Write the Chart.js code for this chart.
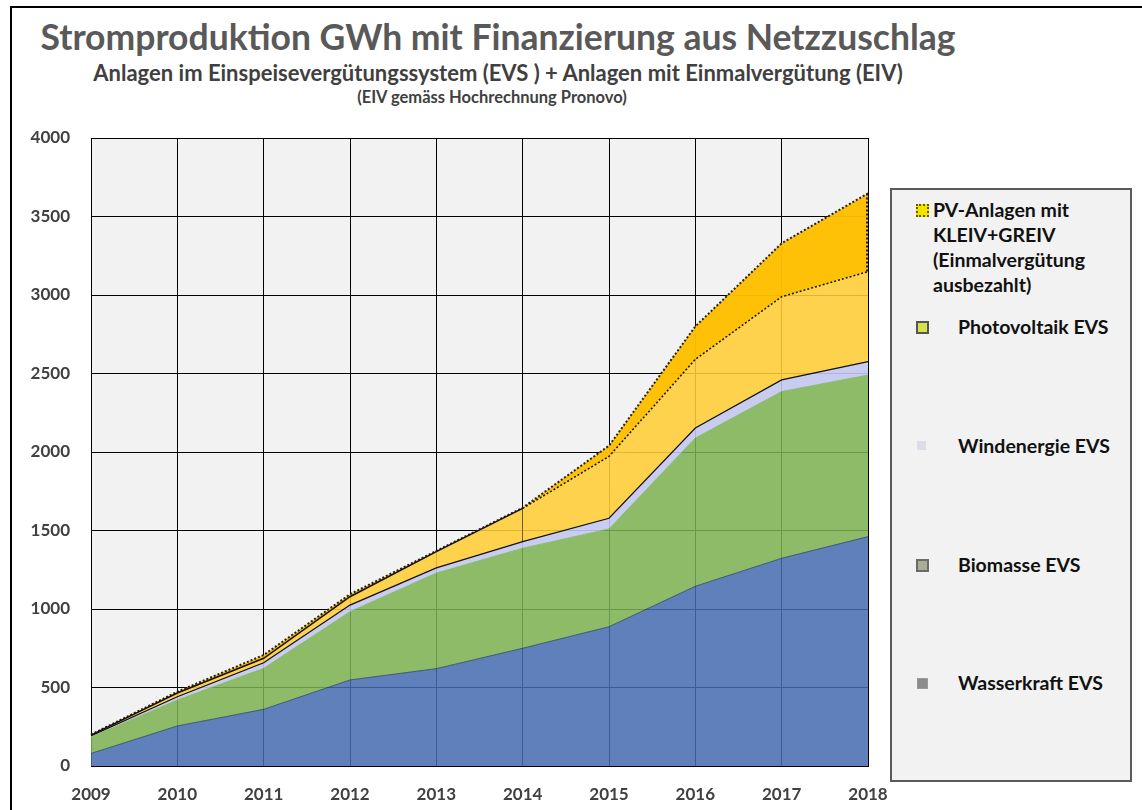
<!DOCTYPE html>
<html>
<head>
<meta charset="utf-8">
<script src="https://cdn.jsdelivr.net/npm/chart.js@4"></script>
<style>
  body { margin: 0; background: #fff; width: 1142px; height: 810px; position: relative; overflow: hidden; font-family: Lato, "Open Sans", sans-serif; }
  #frame { position: absolute; left: 10px; top: 6px; width: 1140px; height: 820px; border-left: 2px solid #000; border-top: 2px solid #000; }
  .t { position: absolute; left: 0; text-align: center; font-weight: bold; white-space: nowrap; }
  #legend { position: absolute; left: 890px; top: 188px; width: 238px; height: 590px; border: 2px solid #5a5a5a; background: #f2f2f2; }
  .lt { position: absolute; font-weight: bold; font-size: 19.5px; color: #111; white-space: nowrap; line-height: 25px; }
  .mk { position: absolute; width: 9px; height: 9px; }
  canvas { position: absolute; left: 0; top: 0; }
</style>
</head>
<body>
<div id="frame"></div>
<div class="t" style="top:16px;width:996px;font-size:35.5px;line-height:42px;color:#595959">Stromproduktion GWh mit Finanzierung aus Netzzuschlag</div>
<div class="t" style="top:60px;width:996px;font-size:22px;line-height:26px;color:#404040">Anlagen im Einspeisevergütungssystem (EVS ) + Anlagen mit Einmalvergütung (EIV)</div>
<div class="t" style="top:87px;width:984px;font-size:16.5px;line-height:20px;color:#404040">(EIV gemäss Hochrechnung Pronovo)</div>
<canvas id="c" width="1142" height="810"></canvas>
<div id="legend"></div>
<div class="mk" style="left:916px;top:204px;background:#f0e400;border:2px dotted #6b5a00"></div>
<div class="lt" style="left:933px;top:197px">PV-Anlagen mit<br>KLEIV+GREIV<br>(Einmalvergütung<br>ausbezahlt)</div>
<div class="mk" style="left:916px;top:321px;background:#d6e24a;border:2px solid #555"></div>
<div class="lt" style="left:958px;top:314px">Photovoltaik EVS</div>
<div class="mk" style="left:917px;top:441px;background:#dcdde6"></div>
<div class="lt" style="left:958px;top:433px">Windenergie EVS</div>
<div class="mk" style="left:916px;top:559px;background:#a9ae95;border:2px solid #6b6b6b"></div>
<div class="lt" style="left:958px;top:552px">Biomasse EVS</div>
<div class="mk" style="left:917px;top:678px;background:#8c8c8c;border:1px solid #9a9a9a"></div>
<div class="lt" style="left:958px;top:670px">Wasserkraft EVS</div>
<script>
// GWh per Jahr, gestapelt
const years = ['2009', '2010', '2011', '2012', '2013', '2014', '2015', '2016', '2017', '2018'];
const wasserkraft = [80, 255, 361, 548, 620, 750, 887, 1145, 1323, 1461];
const biomasse = [105, 165, 261, 435, 609, 637, 623, 944, 1062, 1029];
const windenergie = [7, 21, 36, 42, 33, 42, 68, 64, 74, 86];
const photovoltaik = [5, 24, 28, 53, 103, 212, 394, 437, 530, 573];
const pvEinmal = [3, 8, 21, 16, 5, 4, 68, 210, 340, 498];
const yTicks = [0, 500, 1000, 1500, 2000, 2500, 3000, 3500, 4000];

const plotBg = {
  id: 'plotBg',
  beforeDraw(chart) {
    const a = chart.chartArea;
    const ctx = chart.ctx;
    ctx.save();
    ctx.fillStyle = '#f2f2f2';
    ctx.fillRect(a.left, a.top, a.right - a.left, a.bottom - a.top);
    ctx.restore();
  }
};

// gepunktete rechte Kante der EIV-Fläche
const edge = {
  id: 'edge',
  afterDatasetsDraw(chart) {
    const top = chart.getDatasetMeta(4).data;
    const low = chart.getDatasetMeta(3).data;
    const a = top[top.length - 1], b = low[low.length - 1];
    const ctx = chart.ctx;
    ctx.save();
    ctx.strokeStyle = '#222';
    ctx.lineWidth = 2;
    ctx.setLineDash([2, 2]);
    ctx.beginPath();
    ctx.moveTo(a.x - 1, a.y);
    ctx.lineTo(b.x - 1, b.y);
    ctx.stroke();
    ctx.restore();
  }
};

const tickFont = { family: 'Lato', size: 17, weight: 'bold' };

new Chart(document.getElementById('c').getContext('2d'), {
  type: 'line',
  data: {
    labels: years,
    datasets: [
      {
        label: 'Wasserkraft EVS',
        data: wasserkraft,
        backgroundColor: 'rgba(69,108,177,0.85)',
        borderColor: 'rgba(45,70,100,0.8)',
        borderWidth: 1,
        fill: 'origin'
      },
      {
        label: 'Biomasse EVS',
        data: biomasse,
        backgroundColor: 'rgba(124,178,80,0.85)',
        borderColor: 'rgba(140,185,110,0.9)',
        borderWidth: 1,
        fill: '-1'
      },
      {
        label: 'Windenergie EVS',
        data: windenergie,
        backgroundColor: 'rgba(194,200,240,0.9)',
        borderColor: '#111',
        borderWidth: 1.2,
        fill: '-1'
      },
      {
        label: 'Photovoltaik EVS',
        data: photovoltaik,
        backgroundColor: 'rgba(255,205,52,0.88)',
        borderColor: '#111',
        borderWidth: 1.5,
        fill: '-1',
        segment: {
          borderDash: ctx => ctx.p0DataIndex >= 5 ? [2, 2] : []
        }
      },
      {
        label: 'PV-Anlagen mit KLEIV+GREIV (Einmalvergütung ausbezahlt)',
        data: pvEinmal,
        backgroundColor: 'rgba(255,190,0,0.97)',
        borderColor: '#222',
        borderWidth: 2,
        borderDash: [2, 2],
        fill: '-1'
      }
    ]
  },
  options: {
    responsive: false,
    animation: false,
    elements: { point: { radius: 0 }, line: { tension: 0 } },
    layout: { padding: { left: 0, top: 138, right: 274, bottom: 0 } },
    plugins: {
      legend: { display: false },
      tooltip: { enabled: false }
    },
    scales: {
      x: {
        grid: { color: '#000', lineWidth: 1, drawTicks: false },
        border: { color: '#000' },
        ticks: { color: '#404040', font: tickFont, padding: 18, maxRotation: 0 },
        afterFit: s => { s.height = 44; }
      },
      y: {
        stacked: true,
        min: 0,
        max: 4000,
        afterBuildTicks: s => { s.ticks = yTicks.map(v => ({ value: v })); },
        grid: { color: '#000', lineWidth: 1, drawTicks: false },
        border: { color: '#000' },
        ticks: { color: '#404040', font: tickFont, padding: 21, callback: v => String(v) },
        afterFit: s => { s.width = 91; }
      }
    }
  },
  plugins: [plotBg, edge]
});
</script>
</body>
</html>
